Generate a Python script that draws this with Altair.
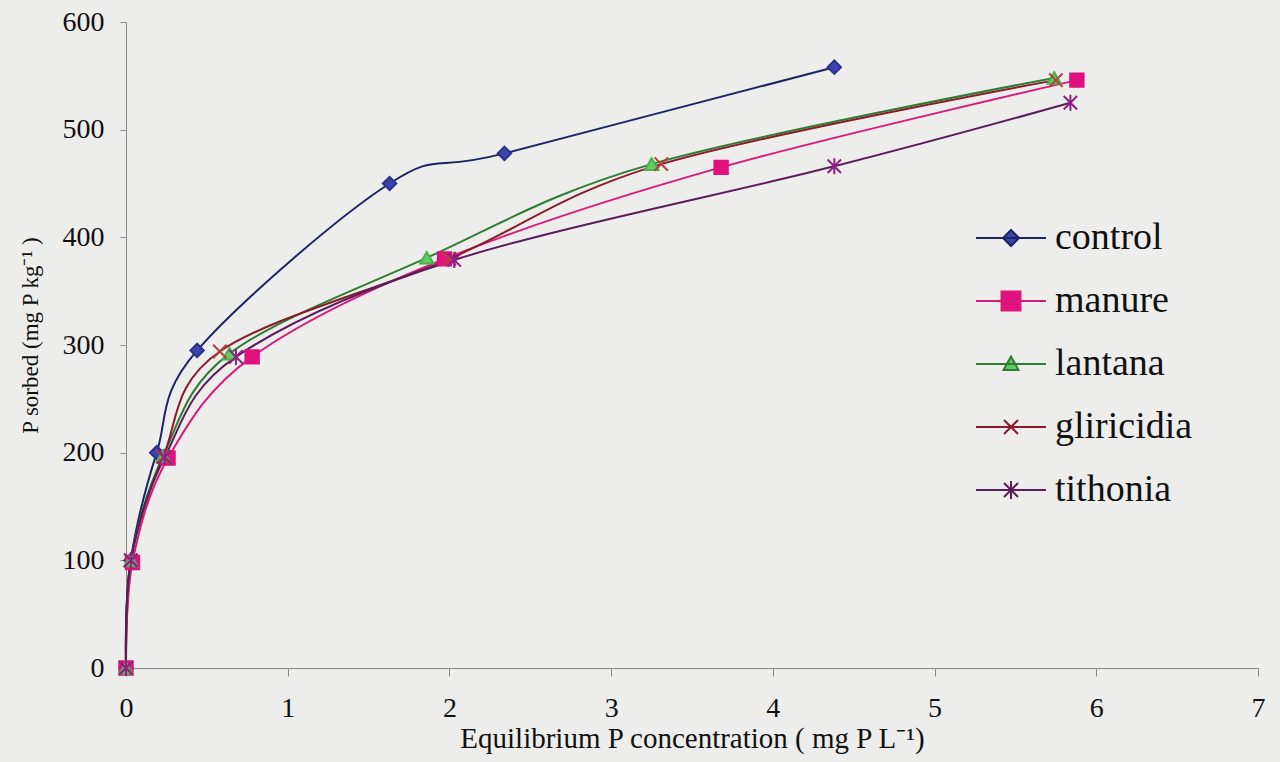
import altair as alt
import pandas as pd

series = ["control", "manure", "lantana", "gliricidia", "tithonia"]

control_x = [0, 0.03, 0.19, 0.44, 1.63, 2.34, 4.38]
control_y = [0, 100, 200, 295, 450, 478, 558]
manure_x = [0, 0.04, 0.26, 0.78, 1.97, 3.68, 5.88]
manure_y = [0, 98, 195, 289, 380, 465, 546]
lantana_x = [0, 0.03, 0.23, 0.64, 1.86, 3.25, 5.74]
lantana_y = [0, 100, 197, 292, 381, 468, 548]
gliricidia_x = [0, 0.03, 0.23, 0.58, 2.00, 3.31, 5.75]
gliricidia_y = [0, 100, 196, 294, 380, 468, 546]
tithonia_x = [0, 0.03, 0.24, 0.68, 2.03, 4.38, 5.84]
tithonia_y = [0, 100, 196, 289, 379, 466, 525]

line_colors = ["#1c2466", "#d81b7a", "#2f7d32", "#8b1a2a", "#5a1d5a"]
marker_fill = ["#3c44b0", "#e0107e", "#5fcf5f", "#c0392b", "#8e1f86"]
marker_stroke = ["#2a318a", "#e0107e", "#4caf50", "#b5403a", "#8e1f86"]

X_PATH = "M-1,-1L1,1M-1,1L1,-1"
AST_PATH = "M-1,-1L1,1M-1,1L1,-1M0,-1.2L0,1.2"
marker_shapes = ["diamond", "square", "triangle-up", X_PATH, AST_PATH]
legend_shapes = [
    "M-1.4,0H1.4M0,-0.32L0.32,0L0,0.32L-0.32,0Z",
    "M-1.4,0H1.4M-0.38,-0.38H0.38V0.38H-0.38Z",
    "M-1.4,0H1.4M0,-0.3L0.3,0.24H-0.3Z",
    "M-1.4,0H1.4M-0.28,-0.28L0.28,0.28M-0.28,0.28L0.28,-0.28",
    "M-1.4,0H1.4M-0.28,-0.28L0.28,0.28M-0.28,0.28L0.28,-0.28M0,-0.36V0.36",
]

rows = []
for name, xs, ys in [
    ("control", control_x, control_y),
    ("manure", manure_x, manure_y),
    ("lantana", lantana_x, lantana_y),
    ("gliricidia", gliricidia_x, gliricidia_y),
    ("tithonia", tithonia_x, tithonia_y),
]:
    for i, (xv, yv) in enumerate(zip(xs, ys)):
        rows.append({"series": name, "x": xv, "y": yv, "order": i})
df = pd.DataFrame(rows)

FONT = "'Liberation Serif', 'Times New Roman', serif"

x_enc = alt.X(
    "x:Q",
    scale=alt.Scale(domain=[0, 7], nice=False),
    axis=alt.Axis(
        title="Equilibrium P concentration ( mg P L⁻¹)",
        values=[0, 1, 2, 3, 4, 5, 6, 7],
        format="d",
        grid=False,
        labelFlush=False,
        domainColor="#8a8a8a",
        tickColor="#8a8a8a",
        tickSize=8,
        labelFont=FONT,
        labelFontSize=28,
        labelColor="#111111",
        labelPadding=18,
        titleFont=FONT,
        titleFontSize=29,
        titleFontWeight="normal",
        titleColor="#111111",
        titlePadding=2,
    ),
)
y_enc = alt.Y(
    "y:Q",
    scale=alt.Scale(domain=[0, 600], nice=False),
    axis=alt.Axis(
        title="P sorbed (mg P kg⁻¹ )",
        values=[0, 100, 200, 300, 400, 500, 600],
        format="d",
        grid=False,
        labelFlush=False,
        domainColor="#8a8a8a",
        tickColor="#8a8a8a",
        tickSize=6,
        labelFont=FONT,
        labelFontSize=28,
        labelColor="#111111",
        labelPadding=16,
        titleFont=FONT,
        titleFontSize=23,
        titleFontWeight="normal",
        titleColor="#111111",
        titlePadding=20,
        titleY=313,
    ),
)

lines = alt.Chart(df).mark_line(interpolate="cardinal", tension=0, strokeWidth=2).encode(
    x=x_enc,
    y=y_enc,
    order="order:Q",
    detail="series:N",
    stroke=alt.Stroke("series:N", scale=alt.Scale(domain=series, range=line_colors), legend=None),
)

points = alt.Chart(df).mark_point(filled=False, opacity=1, strokeWidth=2).encode(
    x="x:Q",
    y="y:Q",
    shape=alt.Shape("series:N", scale=alt.Scale(domain=series, range=marker_shapes), legend=None),
    fill=alt.Fill("series:N", scale=alt.Scale(domain=series, range=marker_fill), legend=None),
    stroke=alt.Stroke("series:N", scale=alt.Scale(domain=series, range=marker_stroke), legend=None),
    size=alt.value(180),
)

legend_layer = alt.Chart(df).mark_point(filled=False, strokeWidth=2).encode(
    x="x:Q",
    y="y:Q",
    opacity=alt.value(0),
    shape=alt.Shape(
        "series:N",
        scale=alt.Scale(domain=series, range=legend_shapes),
        legend=alt.Legend(
            title=None,
            orient="none",
            legendX=859,
            legendY=190,
            labelFont=FONT,
            labelFontSize=38,
            labelColor="#111111",
            labelOffset=18,
            symbolSize=2500,
            symbolStrokeWidth=2,
            symbolOpacity=1,
            rowPadding=18,
            labelLimit=400,
        ),
    ),
    fill=alt.Fill("series:N", scale=alt.Scale(domain=series, range=marker_fill), legend=None),
    stroke=alt.Stroke("series:N", scale=alt.Scale(domain=series, range=line_colors), legend=None),
)

chart = (
    alt.layer(lines, points, legend_layer)
    .resolve_scale(shape="independent", fill="independent", stroke="independent")
    .properties(
        width=1132,
        height=646,
        padding={"left": 126, "top": 22, "right": 22, "bottom": 94},
        autosize=alt.AutoSizeParams(type="none"),
        background="#edeeec",
    )
    .configure(font=FONT)
    .configure_legend(labelFont=FONT)
    .configure_view(stroke=None)
)

chart.save("out.html", embed_options={"renderer": "svg", "actions": False})
